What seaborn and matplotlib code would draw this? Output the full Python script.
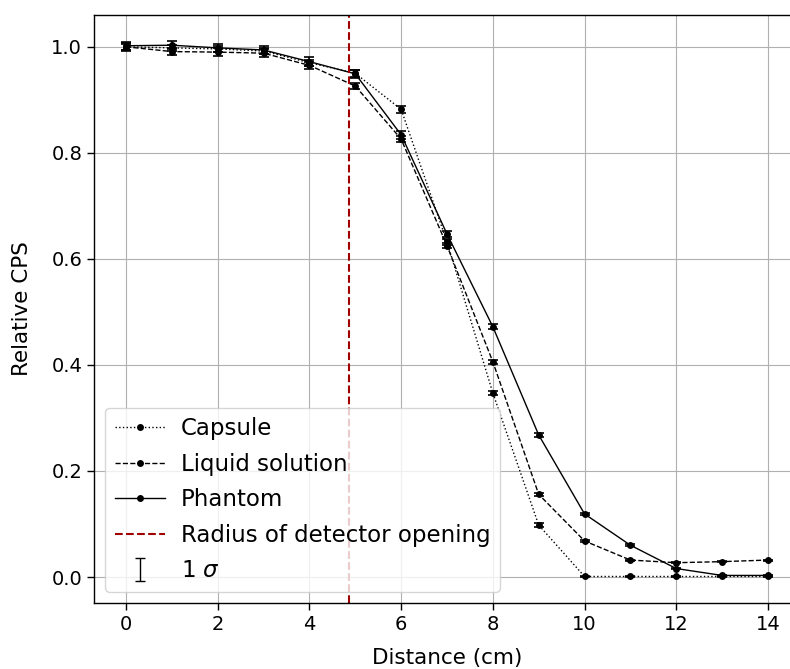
import numpy as np
import pandas as pd
import matplotlib
matplotlib.use("Agg")
import matplotlib.pyplot as plt
import seaborn as sns

# Measured relative count rates versus source distance
distance = [0, 1, 2, 3, 4, 5, 6, 7, 8, 9, 10, 11, 12, 13, 14]
capsule = [1.000, 0.998, 0.996, 0.992, 0.970, 0.950, 0.882, 0.632, 0.347,
           0.098, 0.001, 0.001, 0.001, 0.001, 0.001]
liquid = [1.000, 0.991, 0.990, 0.988, 0.965, 0.926, 0.826, 0.625, 0.406,
          0.156, 0.068, 0.032, 0.027, 0.029, 0.032]
phantom = [1.002, 1.003, 0.998, 0.994, 0.972, 0.949, 0.834, 0.647, 0.472,
           0.268, 0.119, 0.060, 0.016, 0.003, 0.003]

# One-sigma uncertainties
capsule_err = [0.006, 0.006, 0.006, 0.006, 0.006, 0.006, 0.006, 0.005, 0.004,
               0.003, 0.001, 0.001, 0.001, 0.001, 0.001]
liquid_err = [0.007, 0.007, 0.007, 0.007, 0.007, 0.006, 0.006, 0.005, 0.004,
              0.003, 0.002, 0.001, 0.001, 0.001, 0.001]
phantom_err = [0.008, 0.008, 0.008, 0.008, 0.008, 0.007, 0.007, 0.006, 0.005,
               0.004, 0.002, 0.002, 0.001, 0.001, 0.001]

detector_radius = 4.87

series = [
    ("Capsule", capsule, capsule_err, ":"),
    ("Liquid solution", liquid, liquid_err, "--"),
    ("Phantom", phantom, phantom_err, "-"),
]

plt.rcParams["font.family"] = ["DejaVu Sans"]

fig = plt.figure(figsize=(7.9, 6.69), dpi=100)
ax = fig.add_axes([94 / 790, 66 / 669, 706 / 790, 588 / 669])

handles = []
for name, vals, errs, ls in series:
    df = pd.DataFrame({"Distance": distance, "CPS": vals})
    sns.lineplot(data=df, x="Distance", y="CPS", ax=ax, color="black",
                 linestyle=ls, linewidth=1.0, marker="o", markersize=5,
                 markeredgewidth=0, label=name, legend=False)
    handles.append(ax.lines[-1])
    ax.errorbar(distance, vals, yerr=errs, fmt="none", ecolor="black",
                elinewidth=1.2, capsize=3.5, capthick=1.2)

vline = ax.axvline(detector_radius, color="#a00000", linestyle="--",
                   linewidth=1.5, label="Radius of detector opening")
handles.append(vline)
sigma = ax.errorbar([np.nan], [np.nan], yerr=[1.0], fmt="none",
                    ecolor="black", elinewidth=1.0, capsize=3.5, capthick=1.0,
                    label=r"1 $\sigma$")
handles.append(sigma)

ax.set_xlim(-0.7, 14.7)
ax.set_ylim(-0.049, 1.060)
ax.set_xticks([0, 2, 4, 6, 8, 10, 12, 14])
ax.set_yticks([0.0, 0.2, 0.4, 0.6, 0.8, 1.0])
ax.grid(True, color="#b0b0b0", linewidth=0.8)
ax.set_axisbelow(True)
for sp in ax.spines.values():
    sp.set_color("black")
    sp.set_linewidth(1.0)
ax.tick_params(axis="both", which="major", labelsize=14, length=5,
               width=1, direction="out", colors="black")
ax.set_xlabel("Distance (cm)", fontsize=15.5, labelpad=10)
ax.set_ylabel("Relative CPS", fontsize=15.5, labelpad=14)

ax.legend(handles=handles, labels=[h.get_label() for h in handles],
          loc="lower left", fontsize=16.5, framealpha=0.8,
          labelspacing=0.55, handlelength=2.2, handletextpad=0.7)

fig.savefig("out.png", dpi=100)
